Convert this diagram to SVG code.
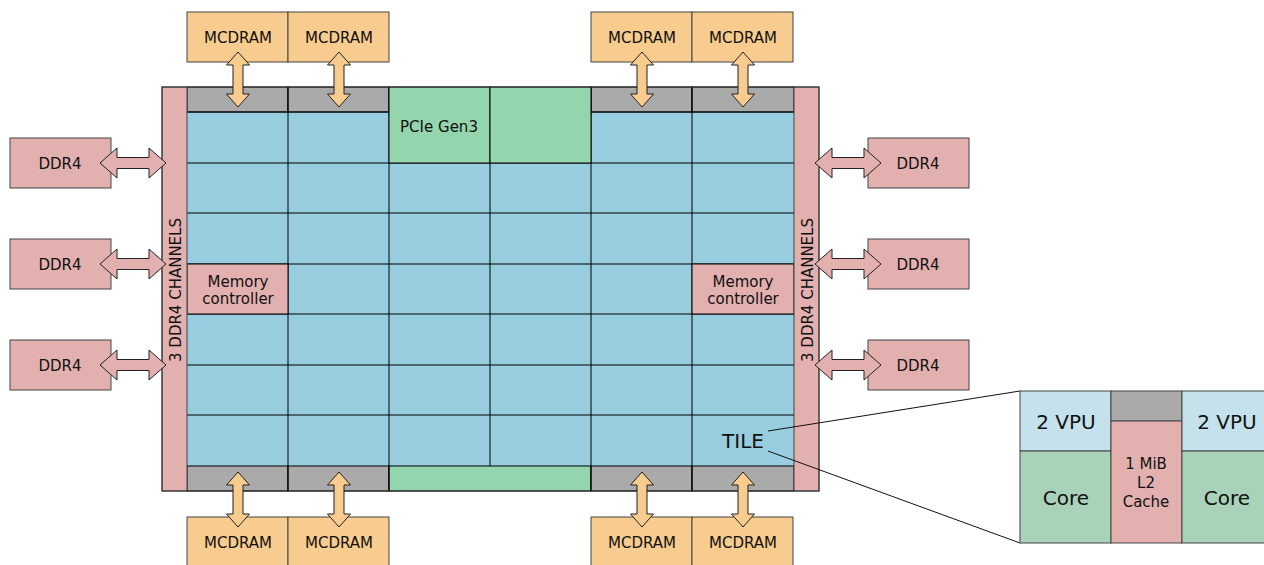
<svg xmlns="http://www.w3.org/2000/svg" xmlns:xlink="http://www.w3.org/1999/xlink" width="1264" height="565" viewBox="0 0 1264 565">
  <style>
    text { font-family: "DejaVu Sans", "Liberation Sans", sans-serif; fill: #111; text-anchor: middle; }
    .t14 { font-size: 15px; }
    .t18 { font-size: 20px; }
    .ext { stroke: #444; stroke-width: 1; }
    .cell { stroke: #000; stroke-width: 1; }
    .blue { fill: #98cde0; }
    .gray { fill: #aaaaaa; }
    .green { fill: #95d5ad; }
    .pink { fill: #e3b0b0; }
    .orange { fill: #f8cb8e; }
    .arrow { stroke: #222; stroke-width: 1; stroke-linejoin: miter; }
  </style>
  <defs>
    <!-- vertical double arrow, tip to tip 55px -->
    <path id="varrow" class="arrow" d="M0,0 L11.5,13 L5,13 L5,42 L11.5,42 L0,55 L-11.5,42 L-5,42 L-5,13 L-11.5,13 Z"/>
    <!-- horizontal double arrow, tip to tip 66px -->
    <path id="harrow" class="arrow" d="M0,0 L17,-15 L17,-5.5 L49,-5.5 L49,-15 L66,0 L49,15 L49,5.5 L17,5.5 L17,15 Z"/>
  </defs>

  <!-- chip body -->
  <g id="chip">
    <rect class="blue" x="187" y="87" width="607" height="404"/>
    <!-- top row of the mesh -->
    <rect class="gray cell" x="187" y="87" width="101" height="25"/>
    <rect class="gray cell" x="288" y="87" width="101" height="25"/>
    <rect class="gray cell" x="591" y="87" width="101" height="25"/>
    <rect class="gray cell" x="692" y="87" width="102" height="25"/>
    <!-- bottom row of the mesh -->
    <rect class="gray cell" x="187" y="466" width="101" height="25"/>
    <rect class="gray cell" x="288" y="466" width="101" height="25"/>
    <rect class="green cell" x="389" y="466" width="202" height="25"/>
    <rect class="gray cell" x="591" y="466" width="101" height="25"/>
    <rect class="gray cell" x="692" y="466" width="102" height="25"/>
    <!-- tile grid lines -->
    <g class="cell" fill="none">
      <line x1="187" y1="163" x2="794" y2="163"/>
      <line x1="187" y1="213" x2="794" y2="213"/>
      <line x1="187" y1="264" x2="794" y2="264"/>
      <line x1="187" y1="314" x2="794" y2="314"/>
      <line x1="187" y1="365" x2="794" y2="365"/>
      <line x1="187" y1="415" x2="794" y2="415"/>
      <line x1="187" y1="112" x2="794" y2="112"/>
      <line x1="288" y1="87" x2="288" y2="491"/>
      <line x1="389" y1="87" x2="389" y2="491"/>
      <line x1="490" y1="87" x2="490" y2="466"/>
      <line x1="591" y1="87" x2="591" y2="491"/>
      <line x1="692" y1="87" x2="692" y2="491"/>
    </g>
  </g>

  <g id="pcie">
    <rect class="green cell" x="389" y="87" width="101" height="76"/>
    <rect class="green cell" x="490" y="87" width="101" height="76"/>
    <text class="t14" x="439" y="132">PCIe Gen3</text>
  </g>

  <g id="mc-left">
    <rect class="pink cell" x="187" y="264" width="101" height="50"/>
    <text class="t14" x="238" y="287">Memory</text>
    <text class="t14" x="238" y="304">controller</text>
  </g>
  <g id="mc-right">
    <rect class="pink cell" x="692" y="264" width="102" height="50"/>
    <text class="t14" x="743" y="287">Memory</text>
    <text class="t14" x="743" y="304">controller</text>
  </g>

  <g id="tile-label">
    <text class="t18" x="743" y="448">TILE</text>
  </g>

  <g id="channels-left">
    <rect class="pink ext" x="162" y="87" width="25" height="404"/>
    <text class="t14" transform="translate(181,290) rotate(-90)">3 DDR4 CHANNELS</text>
  </g>
  <g id="channels-right">
    <rect class="pink ext" x="794" y="87" width="25" height="404"/>
    <text class="t14" transform="translate(813,290) rotate(-90)">3 DDR4 CHANNELS</text>
  </g>

  <!-- outer chip outline -->
  <rect x="162" y="87" width="657" height="404" fill="none" stroke="#333" stroke-width="1"/>

  <!-- MCDRAM stacks -->
  <g id="mcdram-top-left">
    <rect class="orange ext" x="187" y="12" width="101" height="50"/>
    <rect class="orange ext" x="288" y="12" width="101" height="50"/>
    <text class="t14" x="238" y="43">MCDRAM</text>
    <text class="t14" x="339" y="43">MCDRAM</text>
  </g>
  <g id="mcdram-top-right">
    <rect class="orange ext" x="591" y="12" width="101" height="50"/>
    <rect class="orange ext" x="692" y="12" width="101" height="50"/>
    <text class="t14" x="642" y="43">MCDRAM</text>
    <text class="t14" x="743" y="43">MCDRAM</text>
  </g>
  <g id="mcdram-bottom-left">
    <rect class="orange ext" x="187" y="517" width="101" height="50"/>
    <rect class="orange ext" x="288" y="517" width="101" height="50"/>
    <text class="t14" x="238" y="548">MCDRAM</text>
    <text class="t14" x="339" y="548">MCDRAM</text>
  </g>
  <g id="mcdram-bottom-right">
    <rect class="orange ext" x="591" y="517" width="101" height="50"/>
    <rect class="orange ext" x="692" y="517" width="101" height="50"/>
    <text class="t14" x="642" y="548">MCDRAM</text>
    <text class="t14" x="743" y="548">MCDRAM</text>
  </g>

  <!-- DDR4 modules -->
  <g id="ddr4-left">
    <rect class="pink ext" x="10" y="138" width="101" height="50"/>
    <rect class="pink ext" x="10" y="239" width="101" height="50"/>
    <rect class="pink ext" x="10" y="340" width="101" height="50"/>
    <text class="t14" x="60" y="169">DDR4</text>
    <text class="t14" x="60" y="270">DDR4</text>
    <text class="t14" x="60" y="371">DDR4</text>
  </g>
  <g id="ddr4-right">
    <rect class="pink ext" x="868" y="138" width="101" height="50"/>
    <rect class="pink ext" x="868" y="239" width="101" height="50"/>
    <rect class="pink ext" x="868" y="340" width="101" height="50"/>
    <text class="t14" x="918" y="169">DDR4</text>
    <text class="t14" x="918" y="270">DDR4</text>
    <text class="t14" x="918" y="371">DDR4</text>
  </g>

  <!-- connectors -->
  <g id="connectors">
    <g class="orange">
      <use xlink:href="#varrow" x="238" y="52"/>
      <use xlink:href="#varrow" x="339" y="52"/>
      <use xlink:href="#varrow" x="642" y="52"/>
      <use xlink:href="#varrow" x="743" y="52"/>
      <use xlink:href="#varrow" x="238" y="472"/>
      <use xlink:href="#varrow" x="339" y="472"/>
      <use xlink:href="#varrow" x="642" y="472"/>
      <use xlink:href="#varrow" x="743" y="472"/>
    </g>
    <g class="pink">
      <use xlink:href="#harrow" x="100" y="163"/>
      <use xlink:href="#harrow" x="100" y="264"/>
      <use xlink:href="#harrow" x="100" y="365"/>
      <use xlink:href="#harrow" x="815" y="163"/>
      <use xlink:href="#harrow" x="815" y="264"/>
      <use xlink:href="#harrow" x="815" y="365"/>
    </g>
    <!-- zoom lines from the tile to its detail view -->
    <line x1="768" y1="431" x2="1020" y2="391" stroke="#111" stroke-width="1"/>
    <line x1="768" y1="451" x2="1020" y2="543" stroke="#111" stroke-width="1"/>
  </g>

  <!-- tile detail -->
  <g id="tile-detail">
    <rect x="1020" y="391" width="91" height="60" fill="#c5e2ec" class="ext"/>
    <rect x="1020" y="451" width="91" height="92" fill="#a9d3b9" class="ext"/>
    <rect x="1111" y="391" width="71" height="30" class="gray ext"/>
    <rect x="1111" y="421" width="71" height="122" class="pink ext"/>
    <rect x="1182" y="391" width="90" height="60" fill="#c5e2ec" class="ext"/>
    <rect x="1182" y="451" width="90" height="92" fill="#a9d3b9" class="ext"/>
    <text class="t18" x="1066" y="429">2 VPU</text>
    <text class="t18" x="1066" y="505">Core</text>
    <text class="t18" x="1227" y="429">2 VPU</text>
    <text class="t18" x="1227" y="505">Core</text>
    <text class="t14" x="1146" y="469">1 MiB</text>
    <text class="t14" x="1146" y="488">L2</text>
    <text class="t14" x="1146" y="507">Cache</text>
  </g>
</svg>
